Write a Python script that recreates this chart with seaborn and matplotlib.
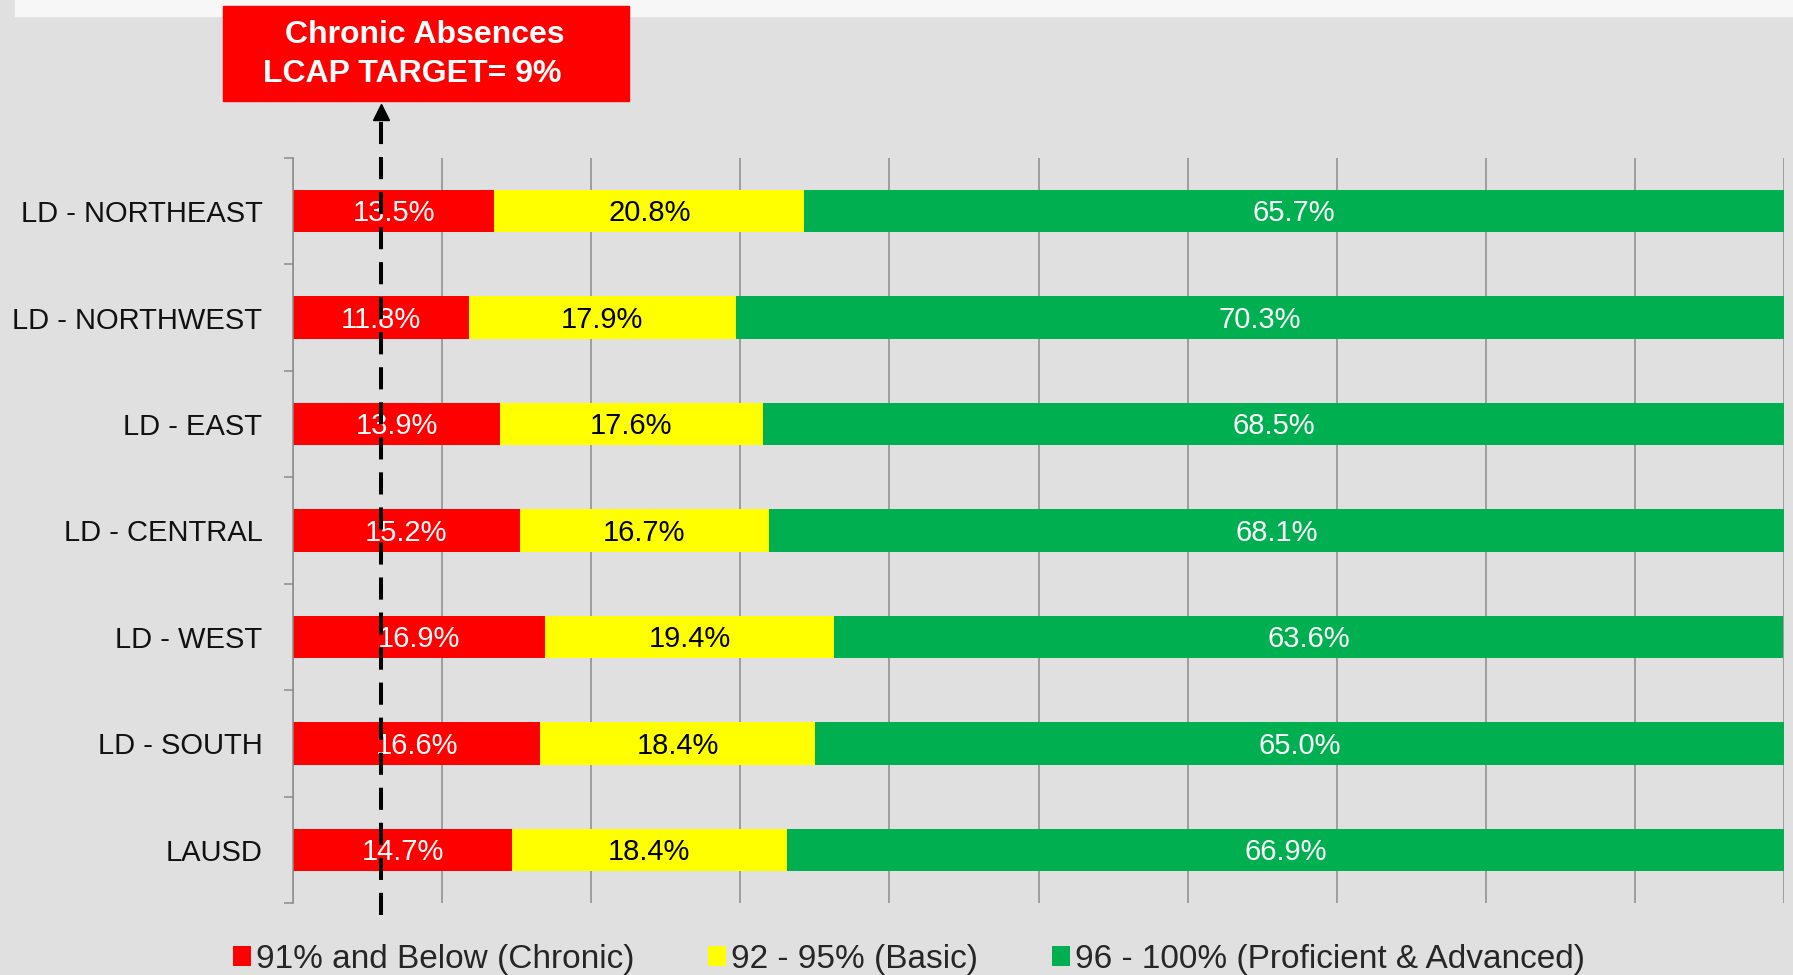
import numpy as np
import pandas as pd
import seaborn as sns
import matplotlib.pyplot as plt
from matplotlib.patches import Patch, Rectangle

# data
regions = ["LD - NORTHEAST", "LD - NORTHWEST", "LD - EAST", "LD - CENTRAL",
           "LD - WEST", "LD - SOUTH", "LAUSD"]
chronic = [13.5, 11.8, 13.9, 15.2, 16.9, 16.6, 14.7]
basic = [20.8, 17.9, 17.6, 16.7, 19.4, 18.4, 18.4]
proficient = [65.7, 70.3, 68.5, 68.1, 63.6, 65.0, 66.9]
series = ["91% and Below (Chronic)", "92 - 95% (Basic)",
          "96 - 100% (Proficient & Advanced)"]
colors = ["#ff0000", "#ffff00", "#00b050"]
text_colors = ["white", "black", "white"]
target_x = 5.9  # where the dashed target line is drawn on the slide

sns.set_theme(style="white")
plt.rcParams["font.family"] = ["Liberation Sans", "DejaVu Sans"]
BG = "#e0e0e0"
GRID = "#8c8c8c"

df = pd.DataFrame({"Region": regions, "chronic": chronic,
                   "basic": basic, "proficient": proficient})
parts = ["chronic", "basic", "proficient"]
cum = df[parts].cumsum(axis=1)

fig, ax = plt.subplots(figsize=(17.93, 9.75), dpi=100)
fig.patch.set_facecolor(BG)
ax.set_facecolor(BG)
fig.subplots_adjust(left=0.1634, right=0.995, top=0.838, bottom=0.0738)

# white strip at the very top of the slide
fig.patches.append(Rectangle((15 / 1793, 1 - 16 / 975), 1, 16 / 975,
                             transform=fig.transFigure, color="#f7f7f7", zorder=0))

# stacked bars: draw the longest cumulative first
for part, color in zip(parts[::-1], colors[::-1]):
    sns.barplot(x=cum[part], y=df["Region"], color=color, orient="h",
                width=0.4, saturation=1, linewidth=0, edgecolor="none",
                ax=ax, zorder=2)

for i, part in enumerate(parts):
    left = cum[part] - df[part]
    for j, v in enumerate(df[part]):
        ax.text(left[j] + v / 2, j + 0.02, f"{v:.1f}%", ha="center", va="center",
                fontsize=21, color=text_colors[i], zorder=3)

ax.set_xlim(0, 100)
ax.set_ylim(6.5, -0.5)
ax.set_xticks(range(0, 101, 10))
ax.tick_params(axis="x", length=0, labelbottom=False)
ax.grid(axis="x", color=GRID, lw=1.1)
ax.set_axisbelow(True)
ax.set_xlabel("")
ax.set_ylabel("")
for s in ["top", "right", "bottom"]:
    ax.spines[s].set_visible(False)
ax.spines["left"].set_color(GRID)
ax.spines["left"].set_linewidth(1.1)
ax.set_yticks(np.arange(-0.5, 7, 1), minor=True)
ax.tick_params(axis="y", which="minor", length=6.5, width=1.1, color=GRID, left=True)
ax.tick_params(axis="y", which="major", length=0, pad=22, labelsize=21,
               labelcolor="#111111")

# dashed target line with arrow head
ax.plot([target_x, target_x], [6.61, -0.95], color="black", lw=2.9,
        linestyle=(0, (5.5, 3.2)), clip_on=False, zorder=4)
ax.plot([target_x], [-0.93], marker="^", ms=11, color="black", clip_on=False, zorder=4)

# red callout box
fig.patches.append(Rectangle((223 / 1793, 1 - 101 / 975), 406 / 1793, 95 / 975,
                             transform=fig.transFigure, color="#ff0000", zorder=1))
fig.text(425 / 1793, 1 - 35 / 975, "Chronic Absences", ha="center", va="center",
         fontsize=23, fontweight="bold", color="white")
fig.text(412 / 1793, 1 - 74 / 975, "LCAP TARGET= 9%", ha="center", va="center",
         fontsize=23, fontweight="bold", color="white")

handles = [Patch(facecolor=c, edgecolor="none") for c in colors]
fig.legend(handles, series, loc="center", bbox_to_anchor=(0.507, 0.016), ncol=3,
           frameon=False, fontsize=24, handlelength=0.55, handleheight=0.55,
           handletextpad=0.15, columnspacing=2.2)

fig.savefig("out.png", dpi=100, facecolor=fig.get_facecolor())
